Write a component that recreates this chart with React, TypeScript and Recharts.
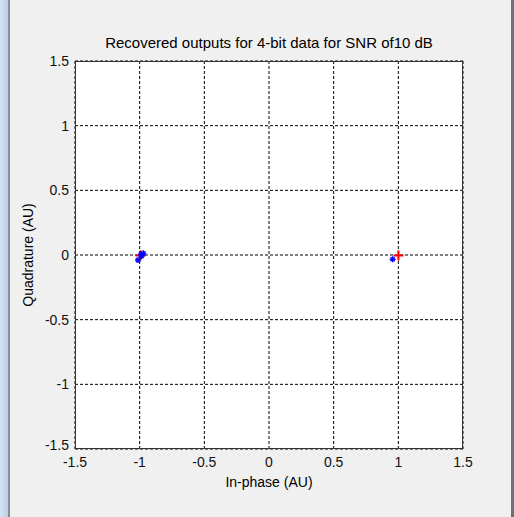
import React from 'react';
import { ScatterChart, Scatter, XAxis, YAxis, CartesianGrid } from 'recharts';

// reference constellation (points on the in-phase axis)
const idealI = [-1, 1];
const idealQ = [0, 0];

// recovered symbols after the channel
const rxI = [-0.972, -1.013, -0.985, -0.99, 0.956];
const rxQ = [0.013, -0.039, -0.008, 0.005, -0.033];

const ticks = [-1.5, -1, -0.5, 0, 0.5, 1, 1.5];

const ideal = idealI.map((x, i) => ({ x, y: idealQ[i] }));
const received = rxI.map((x, i) => ({ x, y: rxQ[i] }));

const font = '"Liberation Sans", Arial, sans-serif';

const Plus = (props: any) => {
  const { cx, cy } = props;
  const px = Math.round(cx) + 0.5;
  const py = Math.round(cy) + 0.5;
  return (
    <g stroke="#ff0000" strokeWidth={2}>
      <line x1={px - 5} y1={py} x2={px + 5} y2={py} />
      <line x1={px} y1={py - 5} x2={px} y2={py + 5} />
    </g>
  );
};

const Star = (props: any) => {
  const { cx, cy } = props;
  const r = 3;
  return (
    <g stroke="#0000ff" strokeWidth={1.4}>
      <line x1={cx - r} y1={cy} x2={cx + r} y2={cy} />
      <line x1={cx} y1={cy - r} x2={cx} y2={cy + r} />
      <line x1={cx - r * 0.7} y1={cy - r * 0.7} x2={cx + r * 0.7} y2={cy + r * 0.7} />
      <line x1={cx - r * 0.7} y1={cy + r * 0.7} x2={cx + r * 0.7} y2={cy - r * 0.7} />
    </g>
  );
};

const XTick = (props: any) => {
  const { x, y, payload } = props;
  return (
    <text x={x} y={y + 14} textAnchor="middle" fill="#111" fontSize={14} fontFamily={font}>
      {payload.value}
    </text>
  );
};

// bottom label sits a little higher so it clears the x labels
const YTick = (props: any) => {
  const { x, y, payload } = props;
  const shift = payload.value === -1.5 ? -4 : 0;
  return (
    <text x={x} y={y + 5 + shift} textAnchor="end" fill="#111" fontSize={14} fontFamily={font}>
      {payload.value}
    </text>
  );
};

export default function App() {
  return (
    <div style={{ position: 'fixed', left: 0, top: 0, width: 514, height: 517, background: '#f0f0f0', fontFamily: font }}>
      <div style={{ position: 'absolute', left: 0, top: 0, width: 8, height: 517, background: 'linear-gradient(to right, #d6e4f3, #b9cfe8)' }} />
      <div style={{ position: 'absolute', left: 8, top: 0, width: 2, height: 517, background: '#8a8f96' }} />
      <div style={{ position: 'absolute', left: 511, top: 0, width: 3, height: 517, background: '#6d7178' }} />
      <div style={{ position: 'absolute', left: 75, top: 61, width: 388, height: 388, background: '#ffffff' }} />
      <div style={{ position: 'absolute', left: 0, top: 34, width: 538, textAlign: 'center', fontSize: 15, color: '#000' }}>
        Recovered outputs for 4-bit data for SNR of10 dB
      </div>
      <div style={{ position: 'absolute', left: 0, top: 474, width: 538, textAlign: 'center', fontSize: 14, color: '#000' }}>
        In-phase (AU)
      </div>
      <div
        style={{
          position: 'absolute', left: 28, top: 255, fontSize: 14, color: '#000', whiteSpace: 'nowrap',
          transform: 'translate(-50%, -50%) rotate(-90deg)',
        }}
      >
        Quadrature (AU)
      </div>
      <div style={{ position: 'absolute', left: 0, top: 0 }}>
        <ScatterChart width={514} height={517} margin={{ top: 61, right: 51, bottom: 38, left: 35 }}>
          <CartesianGrid stroke="#000" strokeDasharray="3 2" strokeWidth={1} />
          <XAxis
            type="number" dataKey="x" domain={[-1.5, 1.5]} ticks={ticks}
            allowDataOverflow axisLine={false} tickLine={false} tickSize={2} tick={<XTick />} height={30}
          />
          <YAxis
            type="number" dataKey="y" domain={[-1.5, 1.5]} ticks={ticks}
            allowDataOverflow axisLine={false} tickLine={false} tickSize={4} tick={<YTick />} width={40}
          />
          <Scatter data={ideal} shape={Plus} isAnimationActive={false} />
          <Scatter data={received} shape={Star} isAnimationActive={false} />
        </ScatterChart>
      </div>
      <svg width={514} height={517} style={{ position: 'absolute', left: 0, top: 0, pointerEvents: 'none' }}>
        <rect x={75.5} y={61.5} width={387} height={387} fill="none" stroke="#333" strokeWidth={1} />
      </svg>
    </div>
  );
}
